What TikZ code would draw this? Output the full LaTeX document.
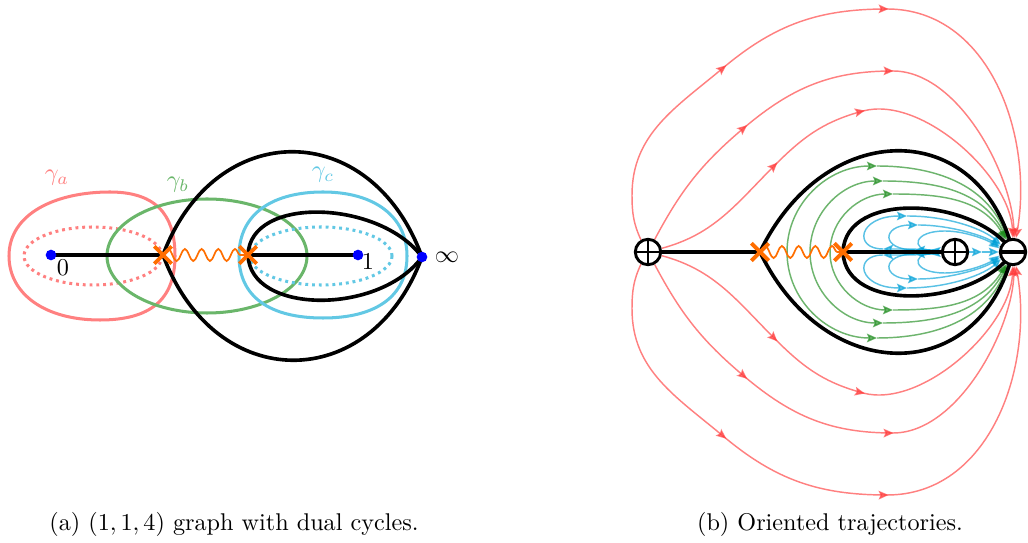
\documentclass[tikz,border=0pt]{standalone}
\usetikzlibrary{decorations.pathmorphing,decorations.markings,arrows.meta,shapes.misc,backgrounds}
\definecolor{rA}{RGB}{255,128,128}
\definecolor{gB}{RGB}{106,182,106}
\definecolor{cC}{RGB}{98,200,228}
\definecolor{orng}{RGB}{255,110,0}
\definecolor{trR}{RGB}{255,60,60}
\definecolor{trG}{RGB}{30,140,30}
\definecolor{trC}{RGB}{0,160,215}
\begin{document}
\begin{tikzpicture}[x=0.4133pt,y=0.4133pt,
  blk/.style={line width=1.5pt, draw=black},
  cyc/.style={line width=1.25pt},
  dots/.style={line width=1.25pt, dash pattern=on 1.2pt off 1.6pt},
  pdot/.style={circle, fill=blue, inner sep=0pt, minimum size=4.4pt},
  xmark/.style={cross out, draw=orng, line width=1.6pt, inner sep=0pt, minimum size=5.6pt},
  wave/.style={draw=orng, line width=0.7pt, decorate, decoration={snake, segment length=6.9pt, amplitude=2.5pt}},
  pole/.style={circle, draw, line width=1.2pt, fill=white, inner sep=0pt, minimum size=10.5pt},
  pplus/.style={pole, path picture={\draw[line width=1.2pt] (path picture bounding box.north) -- (path picture bounding box.south) (path picture bounding box.west) -- (path picture bounding box.east);}},
  pminus/.style={pole, path picture={\draw[line width=1.7pt] (path picture bounding box.west) -- (path picture bounding box.east);}},
  tip/.tip={Stealth[length=4.2pt,width=3.6pt,inset=0.8pt]},
  tr/.style={line width=0.6pt, opacity=0.65, -tip},
  trr/.style={tr, draw=trR},
  trg/.style={tr, draw=trG},
  trc/.style={tr, draw=trC},
  mid2/.style n args={2}{postaction={decorate}, decoration={markings,
      mark=at position #1 with {\arrow{tip}},
      mark=at position #2 with {\arrow{tip}}}},
]
\useasboundingbox (0,0) rectangle (1028,542);

% ---------- (a) ----------
\node[pdot] (z0) at (51,287) {};
\node[xmark] (xa) at (163,287) {};
\node[xmark] (xb) at (248,287) {};
\node[pdot] (z1) at (358,287) {};
\node[pdot] (zi) at (422,285) {};
\node[text=rA] (la) at (57,364) {$\gamma_a$};
\node[text=gB] (lb) at (178,357) {$\gamma_b$};
\node[text=cC] (lc) at (323,367) {$\gamma_c$};
\node (l0) at (63,274) {$0$};
\node (l1) at (368,280) {$1$};
\node (li) at (447,285) {$\infty$};
\node (capa) at (234,18) {(a) $(1,1,4)$ graph with dual cycles.};

\begin{scope}[on background layer]
  \draw[cyc, rA] (9,286) .. controls (9,328) and (55,350) .. (110,350) .. controls (165,350) and (175,317) .. (175,286) .. controls (175,242) and (150,222) .. (100,222) .. controls (45,222) and (9,248) .. cycle;
  \draw[dots, rA] (93,286) ellipse [x radius=69, y radius=29];
  \draw[cyc, gB] (207,286) ellipse [x radius=100, y radius=57];
  \draw[cyc, cC] (239,286) .. controls (239,330) and (275,350) .. (323,350) .. controls (375,350) and (407,325) .. (407,286) .. controls (407,245) and (375,224) .. (323,224) .. controls (270,224) and (239,245) .. cycle;
  \draw[dots, cC] (321,286) ellipse [x radius=71, y radius=29];
  \draw[blk] (xa.center) .. controls (215,425) and (371,425) .. (zi.center) .. controls (371,147) and (215,147) .. (xa.center);
  \draw[blk] (zi.center) .. controls (380,342) and (250,347) .. (xb.center) .. controls (250,227) and (380,227) .. (zi.center);
  \draw[blk] (z0.center) -- (xa.center);
  \draw[blk] (xb.center) -- (z1.center);
  \draw[wave] (xa.center) -- (xb.center);
\end{scope}

% ---------- (b) ----------
\node[pplus] (Lp) at (648,290) {};
\node[xmark] (xc) at (760,290) {};
\node[xmark] (xd) at (843,290) {};
\node[pplus] (Rp) at (955,290) {};
\node[pminus] (M) at (1013,290) {};
\node (capb) at (830,18) {(b) Oriented trajectories.};

\begin{scope}[on background layer]
  % red
  \draw[trr, mid2={0.311}{0.568}] (Lp.120) to[out=115,in=-90] (632,347) to[out=90,in=220] (723,474) to[out=40,in=180] (887,533) to[out=0,in=80] (M.78);
  \draw[trr, mid2={0.311}{0.568}] (Lp.-120) to[out=-115,in=90] (632,233) to[out=-90,in=140] (723,106) to[out=-40,in=180] (887,47) to[out=0,in=-80] (M.-78);
  \draw[trr, mid2={0.28}{0.582}] (Lp.62) to[out=62,in=220] (745,415) to[out=40,in=180] (893,471) to[out=0,in=92,looseness=.8] (M.85);
  \draw[trr, mid2={0.28}{0.582}] (Lp.-62) to[out=-62,in=140] (745,165) to[out=-40,in=180] (893,109) to[out=0,in=-92,looseness=.8] (M.-85);
  \draw[trr, mid2={0.316}{0.539}] (Lp.15) to[out=15,in=225] (775,377) to[out=45,in=195] (863,431) to[out=15,in=92,looseness=.8] (M.91);
  \draw[trr, mid2={0.316}{0.539}] (Lp.-15) to[out=-15,in=135] (775,203) to[out=-45,in=165] (863,149) to[out=-15,in=-92,looseness=.8] (M.-91);
  % green
  \draw[trg] (787,290) to[out=90,in=180] (877,376);
  \draw[trg] (877,376) to[out=0,in=112] (M.112);
  \draw[trg] (810,290) to[out=90,in=180] (883,361);
  \draw[trg] (883,361) to[out=0,in=116] (M.116);
  \draw[trg] (830,290) to[out=90,in=180] (893,348);
  \draw[trg] (893,348) to[out=0,in=120] (M.120);
  \draw[trg] (787,290) to[out=-90,in=180] (877,204);
  \draw[trg] (877,204) to[out=0,in=-112] (M.-112);
  \draw[trg] (810,290) to[out=-90,in=180] (883,219);
  \draw[trg] (883,219) to[out=0,in=-116] (M.-116);
  \draw[trg] (830,290) to[out=-90,in=180] (893,232);
  \draw[trg] (893,232) to[out=0,in=-120] (M.-120);
  % cyan
  \draw[trc] (Rp.175) to[out=175,in=0] (883,293);
  \draw[trc] (883,293) .. controls (853,293) and (858,326) .. (907,326);
  \draw[trc] (907,326) .. controls (950,326) and (985,312) .. (M.150);
  \draw[trc] (Rp.177) to[out=177,in=0] (915,292);
  \draw[trc] (915,292) .. controls (880,292) and (882,317) .. (918,317);
  \draw[trc] (918,317) .. controls (950,317) and (985,306) .. (M.158);
  \draw[trc] (Rp.178) -- (930,292);
  \draw[trc] (930,292) .. controls (912,292) and (912,311) .. (945,311) .. controls (965,311) and (988,302) .. (M.165);
  \draw[trc] (Rp.-175) to[out=-175,in=0] (883,287);
  \draw[trc] (883,287) .. controls (853,287) and (858,254) .. (907,254);
  \draw[trc] (907,254) .. controls (950,254) and (985,268) .. (M.-150);
  \draw[trc] (Rp.-177) to[out=-177,in=0] (915,288);
  \draw[trc] (915,288) .. controls (880,288) and (882,263) .. (918,263);
  \draw[trc] (918,263) .. controls (950,263) and (985,274) .. (M.-158);
  \draw[trc] (Rp.-178) -- (930,288);
  \draw[trc] (930,288) .. controls (912,288) and (912,269) .. (945,269) .. controls (965,269) and (988,278) .. (M.-165);
  \draw[trc] (Rp) -- (982,290);
  \draw[trc] (982,290) -- (M);
  % black
  \draw[blk] (xc.center) .. controls (825,425) and (980,425) .. (M.center) .. controls (980,155) and (825,155) .. (xc.center);
  \draw[blk] (M.center) .. controls (975,345) and (845,352) .. (xd.center) .. controls (845,228) and (975,235) .. (M.center);
  \draw[blk] (Lp) -- (xc.center);
  \draw[blk] (xd.center) -- (Rp);
  \draw[wave] (xc.center) -- (xd.center);
\end{scope}
\end{tikzpicture}
\end{document}
